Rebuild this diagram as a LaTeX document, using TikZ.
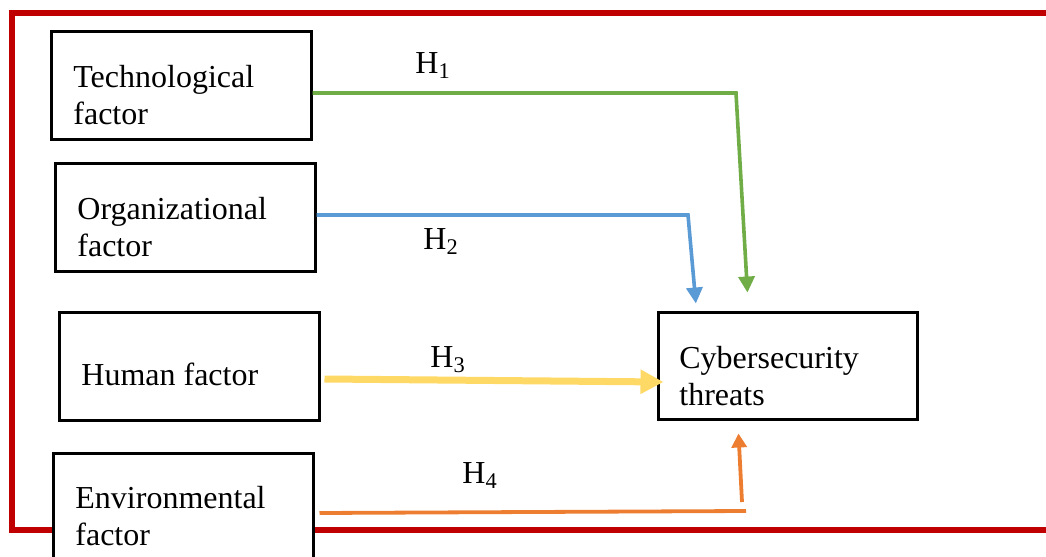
\documentclass[tikz,border=0pt]{standalone}
\usepackage{fontspec}
\setmainfont{Liberation Serif}
\usepackage{tikz}
\usetikzlibrary{arrows.meta, positioning}
\definecolor{frame}{HTML}{C00000}
\definecolor{hgreen}{HTML}{70AD47}
\definecolor{hblue}{HTML}{5B9BD5}
\definecolor{hyellow}{HTML}{FFD966}
\definecolor{horange}{HTML}{ED7D31}

\begin{document}
\begin{tikzpicture}[
    x=0.5pt, y=-0.5pt,
    every node/.style={font=\fontsize{16}{18.5}\selectfont},
    factorbox/.style={rectangle, draw=black, fill=white, line width=1.5pt, minimum width=130pt, minimum height=54pt, inner sep=0pt},
    boxtext/.style={anchor=west, align=left, inner sep=0pt},
    hlabel/.style={anchor=base west, inner sep=0pt},
    hlink/.style={line width=1.8pt, -{Triangle[length=8pt, width=8pt]}},
]
\useasboundingbox (0,0) rectangle (1046,557);
% open frame, runs off to the right
\draw[frame, line width=3pt] (1060,13) -- (12,13) -- (12,530) -- (1060,530);

% factors
\node[factorbox] (tech) at (181,85) {};
\node[boxtext] (techtext) at (73,95) {Technological\\factor};
\node[factorbox] (org) at (185,217) {};
\node[boxtext] (orgtext) at (77,227) {Organizational\\factor};
\node[factorbox] (human) at (189,366) {};
\node[boxtext] (humantext) at (81,374) {Human factor};
\node[factorbox] (env) at (183,507) {};
\node[boxtext] (envtext) at (75,516) {Environmental\\factor};
\node[factorbox, minimum width=129.5pt, minimum height=53.5pt] (cyber) at (787.5,365.5) {};
\node[boxtext] (cybertext) at (679,376) {Cybersecurity\\threats};

% hypotheses
\coordinate (t1) at (736,93);
\draw[hlink, hgreen, shorten >=9pt] (tech.east |- t1) -- (t1) -- ([xshift=46pt]cyber.north west);
\node[hlabel] (h1) at (415,73) {H\textsubscript{1}};

\coordinate (t2) at (688,215);
\draw[hlink, hblue, shorten >=3.5pt] (org.east |- t2) -- (t2) -- ([xshift=20pt]cyber.north west);
\node[hlabel] (h2) at (423,249) {H\textsubscript{2}};

\draw[hyellow, line width=3.5pt, -{Triangle[length=11.5pt, width=11.5pt]}] ([xshift=2pt, yshift=-6.5pt]human.east) -- ([xshift=3.5pt, yshift=-8.25pt]cyber.west);
\node[hlabel] (h3) at (430,367) {H\textsubscript{3}};

\coordinate (t4) at (746,511);
\coordinate (t4b) at (742,502);
\draw[horange, line width=1.9pt] ([xshift=2.5pt, yshift=-3pt]env.east) -- (t4);
\draw[horange, line width=1.9pt, -{Triangle[length=7pt, width=7.5pt]}] (t4b) -- ([xshift=41pt, yshift=-6.5pt]cyber.south west);
\node[hlabel] (h4) at (462,483) {H\textsubscript{4}};
\end{tikzpicture}
\end{document}
